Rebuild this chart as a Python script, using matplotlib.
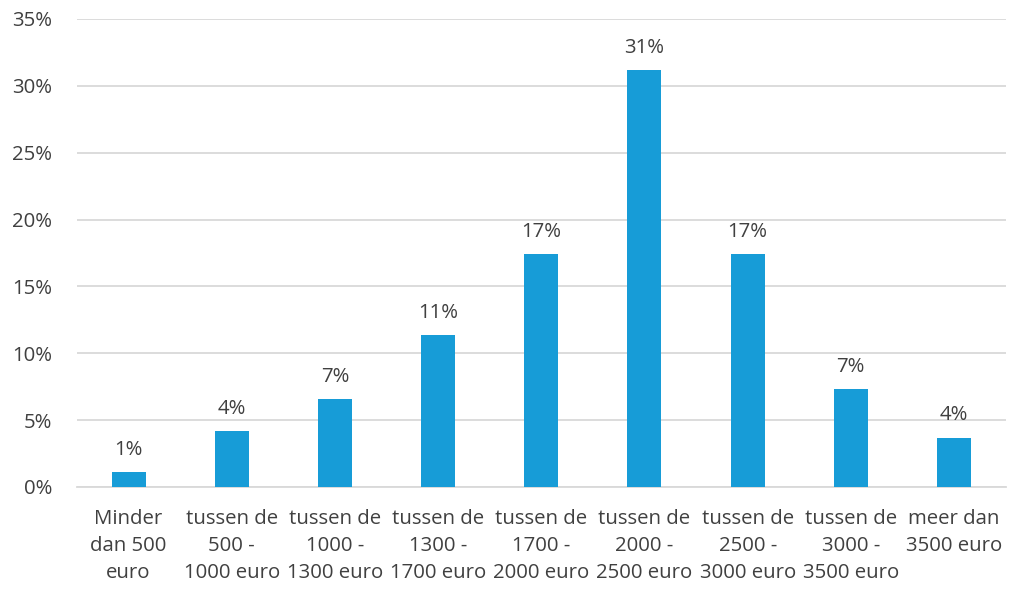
import matplotlib.pyplot as plt
import numpy as np
from matplotlib.ticker import FuncFormatter

categories = [
    "Minder\ndan 500\neuro",
    "tussen de\n500 -\n1000 euro",
    "tussen de\n1000 -\n1300 euro",
    "tussen de\n1300 -\n1700 euro",
    "tussen de\n1700 -\n2000 euro",
    "tussen de\n2000 -\n2500 euro",
    "tussen de\n2500 -\n3000 euro",
    "tussen de\n3000 -\n3500 euro",
    "meer dan\n3500 euro",
]
shares = [1.1, 4.2, 6.6, 11.4, 17.4, 31.2, 17.4, 7.3, 3.7]
labels = ["1%", "4%", "7%", "11%", "17%", "31%", "17%", "7%", "4%"]

plt.rcParams['font.family'] = ['Open Sans', 'DejaVu Sans']
txt = '#404040'
fs = 14.7

fig = plt.figure(figsize=(10.09, 5.9), dpi=100)
ax = fig.add_axes([0.0763, 0.1746, 0.9203, 0.7932])

x = np.arange(len(categories))
ax.bar(x, shares, width=0.33, color='#179CD7', zorder=3)
for xi, v, l in zip(x, shares, labels):
    ax.text(xi, v + 0.9, l, ha='center', va='bottom', fontsize=fs, color=txt)

ax.set_xlim(-0.5, len(categories) - 0.5)
ax.set_ylim(0, 35)
ax.set_yticks(np.arange(0, 36, 5))
ax.yaxis.set_major_formatter(FuncFormatter(lambda v, p: "%d%%" % v))
ax.set_xticks(x)
ax.set_xticklabels(categories, fontsize=fs, color=txt, linespacing=1.45)
ax.tick_params(axis='y', labelsize=fs, labelcolor=txt, length=0, pad=18)
ax.tick_params(axis='x', length=0, pad=16)
ax.grid(axis='y', color='#D9D9D9', linewidth=1.3, zorder=0)
for s in ['top', 'right', 'left']:
    ax.spines[s].set_visible(False)
ax.spines['bottom'].set_color('#D9D9D9')
ax.spines['bottom'].set_linewidth(1.3)

fig.savefig('out.png', dpi=100)
